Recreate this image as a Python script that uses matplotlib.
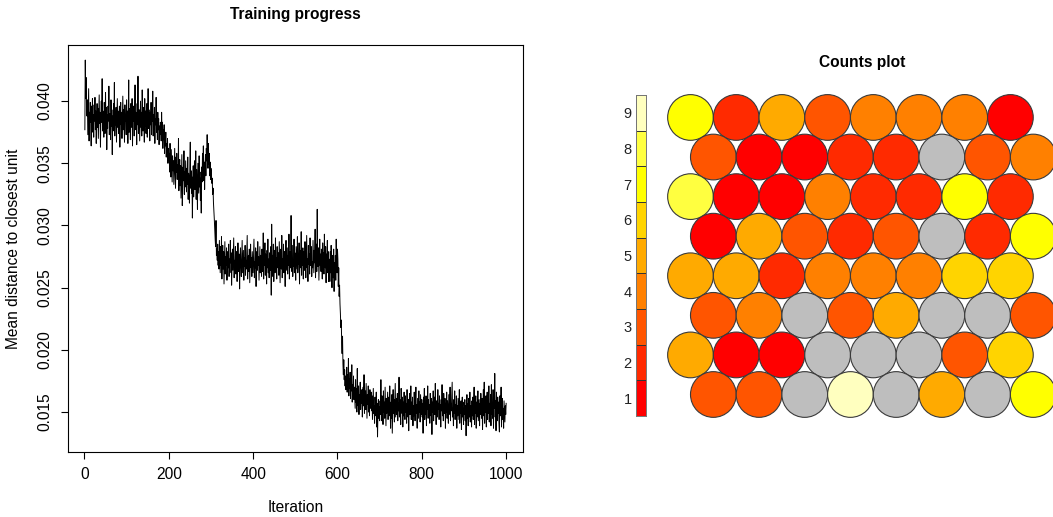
import numpy as np
import matplotlib.pyplot as plt
from matplotlib.patches import Circle, Rectangle

plt.rcParams['font.family'] = ['Liberation Sans', 'DejaVu Sans']

# mean distance to closest unit per iteration, in units of 1e-4
mean_dist_e4 = [
    # 1-100
    377, 433, 402, 419, 395, 388, 401, 373, 392, 410, 368, 391, 383, 399, 386, 364, 396, 381, 402, 375,
    389, 371, 397, 384, 403, 377, 392, 366, 385, 398, 379, 394, 370, 388, 405, 382, 391, 363, 387, 400,
    383, 418, 376, 392, 385, 371, 399, 388, 374, 407, 381, 395, 361, 389, 378, 396, 384, 412, 373, 390,
    386, 369, 401, 380, 393, 357, 388, 376, 398, 384, 415, 372, 390, 381, 395, 367, 387, 402, 379, 392,
    374, 388, 396, 363, 385, 399, 381, 391, 370, 386, 404, 377, 393, 382, 367, 397, 384, 389, 373, 401,
    # 101-200
    380, 392, 366, 388, 417, 375, 394, 383, 369, 398, 386, 379, 402, 364, 390, 384, 396, 372, 388, 413,
    377, 391, 385, 365, 398, 381, 420, 374, 389, 393, 368, 386, 400, 379, 391, 372, 409, 384, 376, 395,
    388, 367, 402, 380, 392, 374, 389, 398, 371, 385, 410, 378, 393, 383, 368, 391, 381, 399, 373, 387,
    384, 408, 372, 389, 378, 395, 366, 386, 381, 403, 375, 384, 369, 391, 377, 386, 365, 380, 373, 383,
    380, 368, 391, 374, 383, 362, 377, 369, 381, 358, 372, 364, 375, 355, 366, 359, 370, 350, 362, 354,
    # 201-300
    358, 343, 366, 350, 339, 361, 347, 335, 356, 344, 352, 333, 348, 362, 341, 330, 355, 343, 358, 337,
    349, 340, 370, 328, 345, 353, 332, 348, 322, 340, 357, 316, 329, 347, 336, 360, 325, 343, 331, 352,
    338, 327, 346, 333, 355, 321, 342, 336, 318, 349, 367, 330, 344, 326, 339, 306, 335, 348, 323, 341,
    352, 329, 337, 360, 321, 345, 334, 313, 350, 339, 326, 356, 331, 343, 320, 338, 310, 347, 335, 358,
    342, 364, 336, 351, 329, 348, 357, 340, 362, 352, 373, 355, 346, 366, 349, 358, 340, 351, 337, 346,
    # 301-400
    343, 334, 338, 325, 330, 318, 312, 305, 296, 289, 283, 304, 276, 281, 272, 285, 268, 279, 265, 288,
    274, 262, 283, 268, 291, 257, 276, 284, 265, 279, 253, 272, 287, 261, 275, 268, 282, 256, 271, 279,
    266, 285, 259, 273, 262, 288, 270, 278, 252, 269, 281, 264, 276, 290, 258, 272, 266, 283, 261, 274,
    279, 255, 268, 286, 271, 263, 277, 249, 273, 282, 266, 259, 275, 288, 262, 270, 280, 256, 274, 267,
    284, 260, 272, 265, 278, 292, 257, 271, 276, 263, 281, 254, 269, 285, 266, 274, 259, 279, 270, 262,
    # 401-500
    277, 289, 258, 271, 266, 282, 251, 273, 279, 264, 287, 268, 275, 256, 270, 283, 262, 276, 268, 259,
    281, 270, 263, 294, 257, 274, 268, 286, 260, 277, 271, 253, 280, 266, 289, 262, 273, 258, 278, 269,
    264, 283, 244, 301, 259, 276, 267, 285, 255, 272, 280, 262, 290, 268, 274, 257, 283, 266, 271, 278,
    260, 287, 269, 254, 276, 281, 265, 292, 258, 273, 268, 285, 262, 279, 270, 251, 277, 288, 264, 274,
    282, 261, 276, 268, 293, 257, 271, 279, 266, 308, 263, 275, 284, 259, 272, 267, 289, 262, 278, 270,
    # 501-600
    256, 283, 274, 265, 291, 262, 277, 269, 286, 253, 272, 280, 266, 295, 260, 275, 268, 282, 257, 273,
    279, 264, 287, 270, 258, 276, 292, 266, 273, 255, 284, 269, 277, 261, 290, 268, 274, 283, 259, 271,
    266, 288, 275, 262, 280, 270, 297, 258, 276, 285, 263, 313, 271, 267, 282, 256, 274, 289, 268, 277,
    263, 281, 272, 257, 286, 269, 278, 261, 293, 275, 266, 283, 254, 277, 270, 288, 262, 279, 255, 273,
    268, 255, 279, 262, 284, 271, 250, 276, 265, 258, 281, 247, 270, 263, 276, 256, 289, 268, 262, 281,
    # 601-700
    273, 251, 266, 243, 252, 237, 229, 218, 224, 206, 197, 211, 189, 180, 192, 176, 184, 171, 179, 168,
    175, 186, 166, 180, 171, 193, 163, 177, 169, 182, 161, 174, 167, 188, 158, 172, 165, 179, 160, 170,
    162, 153, 176, 158, 169, 150, 185, 161, 155, 171, 148, 164, 159, 174, 152, 166, 157, 168, 146, 163,
    170, 155, 180, 149, 161, 167, 152, 173, 158, 145, 164, 156, 171, 150, 162, 147, 168, 159, 153, 166,
    151, 163, 144, 158, 169, 149, 155, 141, 162, 153, 147, 166, 138, 157, 130, 151, 160, 145, 154, 143,
    # 701-800
    159, 148, 176, 152, 143, 163, 156, 140, 167, 150, 158, 145, 170, 153, 139, 161, 149, 157, 166, 144,
    155, 162, 147, 171, 151, 137, 158, 145, 164, 133, 152, 168, 149, 160, 142, 156, 173, 146, 154, 161,
    148, 165, 143, 157, 151, 178, 146, 160, 153, 140, 169, 155, 149, 162, 138, 158, 147, 166, 152, 144,
    163, 150, 157, 141, 168, 154, 146, 160, 135, 156, 165, 148, 153, 171, 144, 158, 150, 162, 139, 155,
    147, 166, 152, 143, 159, 170, 149, 156, 137, 161, 153, 145, 167, 150, 158, 142, 164, 155, 148, 160,
    # 801-900
    146, 157, 133, 162, 151, 169, 144, 155, 148, 163, 139, 158, 152, 171, 145, 160, 149, 156, 141, 165,
    153, 147, 161, 132, 158, 150, 167, 143, 156, 162, 148, 173, 151, 140, 159, 154, 146, 168, 152, 157,
    144, 163, 149, 156, 138, 160, 151, 172, 147, 158, 143, 165, 154, 149, 161, 137, 157, 150, 166, 145,
    159, 152, 141, 164, 155, 148, 170, 143, 157, 151, 162, 174, 146, 153, 139, 160, 149, 167, 144, 156,
    150, 163, 137, 155, 147, 161, 152, 144, 168, 141, 157, 149, 159, 136, 154, 162, 146, 153, 140, 158,
    # 901-1000
    148, 160, 143, 155, 131, 152, 164, 145, 157, 139, 161, 150, 146, 166, 142, 155, 151, 138, 159, 147,
    162, 144, 153, 170, 140, 156, 149, 163, 137, 158, 146, 154, 167, 143, 151, 160, 139, 157, 148, 165,
    152, 145, 161, 136, 155, 168, 147, 174, 141, 158, 150, 163, 138, 156, 166, 144, 159, 149, 171, 142,
    157, 150, 164, 139, 172, 148, 155, 145, 168, 137, 160, 153, 181, 146, 159, 135, 166, 151, 143, 162,
    149, 158, 141, 134, 163, 152, 147, 170, 138, 156, 161, 144, 153, 137, 159, 150, 142, 155, 148, 157,
]

x_ticks = [0, 200, 400, 600, 800, 1000]
y_ticks = [0.015, 0.020, 0.025, 0.030, 0.035, 0.040]
y_tick_labels = ["0.015", "0.020", "0.025", "0.030", "0.035", "0.040"]

# SOM unit counts, top row first (0 = empty unit)
unit_counts = [
    [7, 2, 5, 3, 4, 4, 4, 1],
    [3, 1, 1, 2, 2, 0, 3, 4],
    [8, 1, 1, 4, 2, 2, 7, 2],
    [1, 5, 3, 2, 3, 0, 2, 7],
    [5, 5, 2, 4, 4, 4, 6, 6],
    [3, 4, 0, 3, 5, 0, 0, 3],
    [5, 1, 1, 0, 0, 0, 3, 6],
    [3, 3, 0, 9, 0, 5, 0, 7],
]
count_levels = [1, 2, 3, 4, 5, 6, 7, 8, 9]

heat_colors = ["#FF0000", "#FF2A00", "#FF5500", "#FF8000", "#FFAA00",
               "#FFD400", "#FFFF00", "#FFFF40", "#FFFFBF"]
empty_color = "#BEBEBE"

W, H = 1053, 517
FS = 11.2


def fx(px):
    return px / W


def fy(py):
    return 1 - py / H


fig = plt.figure(figsize=(W / 100, H / 100), dpi=100)

# ---- training progress ----
ax = fig.add_axes([fx(68), fy(452), (523 - 68) / W, (452 - 45) / H])
y = np.array(mean_dist_e4) / 10000.0
it = np.arange(1, len(y) + 1)
ax.plot(it, y, color="black", lw=0.7)
xr = it.max() - it.min()
yr = y.max() - y.min()
ax.set_xlim(it.min() - 0.04 * xr, it.max() + 0.04 * xr)
ax.set_ylim(y.min() - 0.04 * yr, y.max() + 0.04 * yr)
ax.set_xticks(x_ticks)
ax.set_xticklabels([str(t) for t in x_ticks], fontsize=FS)
ax.set_yticks(y_ticks)
ax.set_yticklabels(y_tick_labels, fontsize=FS, rotation=90, va="center")
ax.tick_params(direction="out", length=5, width=0.8, pad=6)
for s in ax.spines.values():
    s.set_linewidth(0.8)

fig.text(fx(295.5), fy(14), "Training progress", ha="center", va="center",
         fontsize=FS, fontweight="bold")
fig.text(fx(295.5), fy(507), "Iteration", ha="center", va="center", fontsize=FS)
fig.text(fx(14), fy(248.5), "Mean distance to closest unit", ha="center",
         va="center", rotation=90, fontsize=FS)

# ---- counts plot ----
unit_px = 45.7
x0_px, y0_px = 690.5, 394.5  # centre of column 0 / bottom row
L, R, B, T = 655, 1053, 440, 80
axc = fig.add_axes([fx(L), fy(B), (R - L) / W, (B - T) / H])
axc.set_xlim((L - x0_px) / unit_px, (R - x0_px) / unit_px)
axc.set_ylim(-(B - y0_px) / unit_px, (y0_px - T) / unit_px)
axc.axis("off")

n_rows = len(unit_counts)
for r, row in enumerate(unit_counts):
    level = n_rows - 1 - r
    shift = 0.5 if level % 2 == 0 else 0.0
    for c, n in enumerate(row):
        col = empty_color if n == 0 else heat_colors[n - 1]
        axc.add_patch(Circle((c + shift, level * np.sqrt(3) / 2), 0.5,
                             facecolor=col, edgecolor="#3a3a3a", lw=0.8))

fig.text(fx(862), fy(62), "Counts plot", ha="center", va="center",
         fontsize=FS, fontweight="bold")

# colour key
axk = fig.add_axes([fx(636), fy(416), 9.5 / W, (416 - 95) / H])
for i, lv in enumerate(count_levels):
    axk.add_patch(Rectangle((0, i), 1, 1, facecolor=heat_colors[i],
                            edgecolor="#333333", lw=0.7))
axk.set_xlim(0, 1)
axk.set_ylim(0, len(count_levels))
axk.set_xticks([])
axk.set_yticks(np.arange(len(count_levels)) + 0.5)
axk.set_yticklabels([str(v) for v in count_levels], fontsize=10.5, color="#222222")
axk.tick_params(length=0, pad=3)
for s in axk.spines.values():
    s.set_edgecolor("#777777")
    s.set_linewidth(0.7)

fig.savefig("out.png", dpi=100)
